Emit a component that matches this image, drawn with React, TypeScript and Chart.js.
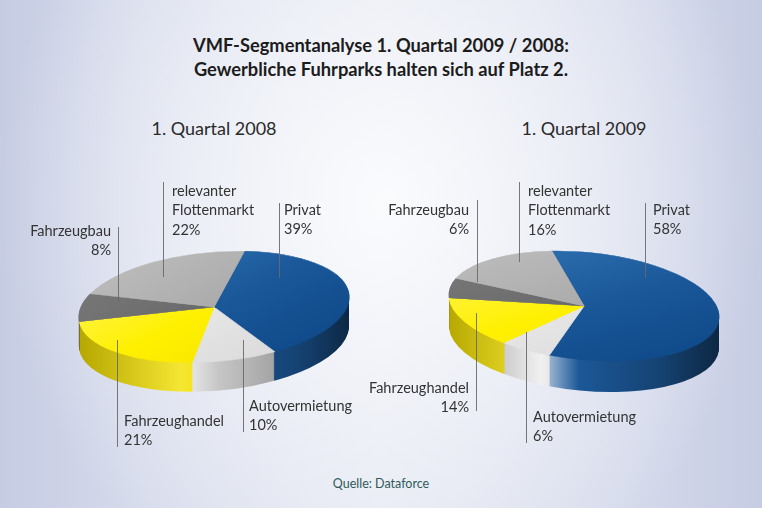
import React, { useEffect, useRef } from "react";
import { Chart, registerables } from "chart.js";

Chart.register(...registerables);

// ---------- data ----------
const CATEGORIES = ["Privat", "Autovermietung", "Fahrzeughandel", "Fahrzeugbau", "relevanter Flottenmarkt"];
const LABEL_LINES = [["Privat"], ["Autovermietung"], ["Fahrzeughandel"], ["Fahrzeugbau"], ["relevanter", "Flottenmarkt"]];
const VALUES_2008 = [39, 10, 21, 8, 22];
const VALUES_2009 = [58, 6, 14, 6, 16];
const PIE_TITLES = ["1. Quartal 2008", "1. Quartal 2009"];
const TITLE_LINES = ["VMF-Segmentanalyse 1. Quartal 2009 / 2008:", "Gewerbliche Fuhrparks halten sich auf Platz 2."];
const SOURCE = "Quelle: Dataforce";

// ---------- styles ----------
const W = 762;
const H = 508;
const FONT = 'Lato, "Noto Sans", sans-serif';
const TOP_STOPS = [
  ["#3678b8", "#1a5899", "#0c4585"],
  ["#f4f4f4", "#e6e6e6", "#d6d6d6"],
  ["#fff56a", "#fff000", "#f2de00"],
  ["#7c7c7c", "#6a6a6a", "#5a5a5a"],
  ["#bfbfbf", "#ababab", "#9d9d9d"],
];
const SIDE_BASE = ["#1c5898", "#c6c6c6", "#f2e000", "#666666", "#9c9c9c"];
const SIDE_HIGHLIGHT = [0.7, 0.75, 0.2, 0.3, 0.4];

const PIES = [
  { cx: 214, cy: 307, r: 136, ry: 55, tilt: -5, depth: 29, rotation: 15 },
  { cx: 584, cy: 306, r: 136, ry: 54, tilt: 5.5, depth: 31, rotation: -16 },
];

type Lbl = { lx: number; y1: number; y2: number; tx: number; ty: number; align: CanvasTextAlign };
const LABEL_LAYOUT: Lbl[][] = [
  [
    { lx: 279, y1: 203, y2: 278, tx: 284, ty: 210, align: "left" },
    { lx: 243, y1: 340, y2: 432, tx: 249, ty: 406, align: "left" },
    { lx: 117, y1: 340, y2: 447, tx: 124, ty: 421, align: "left" },
    { lx: 118, y1: 227, y2: 302, tx: 111, ty: 231, align: "right" },
    { lx: 163, y1: 182, y2: 277, tx: 172, ty: 191, align: "left" },
  ],
  [
    { lx: 645, y1: 203, y2: 278, tx: 653, ty: 210, align: "left" },
    { lx: 526, y1: 332, y2: 443, tx: 533, ty: 417, align: "left" },
    { lx: 476, y1: 313, y2: 411, tx: 469, ty: 388, align: "right" },
    { lx: 477, y1: 200, y2: 282, tx: 469, ty: 210, align: "right" },
    { lx: 519, y1: 182, y2: 262, tx: 528, ty: 191, align: "left" },
  ],
];

function rgb(h: string): number[] {
  const n = parseInt(h.slice(1), 16);
  return [(n >> 16) & 255, (n >> 8) & 255, n & 255];
}
function mix(h: string, t: string, a: number): string {
  const c = rgb(h);
  const d = rgb(t);
  const m = c.map((v, i) => Math.round(v + (d[i] - v) * a));
  return `rgb(${m[0]},${m[1]},${m[2]})`;
}

function applyTilt(ctx: CanvasRenderingContext2D, x: number, y: number, L: any) {
  ctx.translate(x, y);
  ctx.rotate((L.tilt * Math.PI) / 180);
  ctx.scale(1, L.ry / L.r);
  ctx.translate(-x, -y);
}

function topFill(c: any) {
  const i = c.dataIndex ?? 0;
  const chart = c.chart;
  const area = chart.chartArea;
  if (!area) return TOP_STOPS[i][1];
  const cx = (area.left + area.right) / 2;
  const cy = (area.top + area.bottom) / 2;
  const r = Math.min(area.right - area.left, area.bottom - area.top) / 2;
  const g = chart.ctx.createLinearGradient(cx - r, cy - r, cx + r, cy + r);
  g.addColorStop(0, TOP_STOPS[i][0]);
  g.addColorStop(0.5, TOP_STOPS[i][1]);
  g.addColorStop(1, TOP_STOPS[i][2]);
  return g;
}

function pie3d(L: any) {
  return {
    id: "pie3d",
    beforeDatasetsDraw(chart: any) {
      const ctx: CanvasRenderingContext2D = chart.ctx;
      const arcs = chart.getDatasetMeta(0).data;
      if (!arcs.length) return;
      const x0 = arcs[0].x;
      const y0 = arcs[0].y;
      const r0 = arcs[0].outerRadius;
      const grads = SIDE_BASE.map((b, i) => {
        const g = ctx.createLinearGradient(x0 - r0, 0, x0 + r0, 0);
        g.addColorStop(0, mix(b, "#000000", 0.25));
        g.addColorStop(0.36, mix(b, "#ffffff", SIDE_HIGHLIGHT[i]));
        g.addColorStop(0.5, b);
        g.addColorStop(0.8, mix(b, "#000000", 0.25));
        g.addColorStop(1, mix(b, "#000000", 0.55));
        return g;
      });
      for (let d = L.depth; d >= 1; d--) {
        for (let i = 0; i < arcs.length; i++) {
          const a = arcs[i];
          ctx.save();
          ctx.translate(0, d);
          applyTilt(ctx, a.x, a.y, L);
          ctx.beginPath();
          ctx.moveTo(a.x, a.y);
          ctx.arc(a.x, a.y, a.outerRadius, a.startAngle, a.endAngle);
          ctx.closePath();
          ctx.fillStyle = grads[i];
          ctx.fill();
          ctx.restore();
        }
      }
      ctx.save();
      applyTilt(ctx, x0, y0, L);
    },
    afterDatasetsDraw(chart: any) {
      chart.ctx.restore();
    },
  };
}

function labelsPlugin(p: number, values: number[]) {
  return {
    id: "pieLabels",
    afterDraw(chart: any) {
      const ctx: CanvasRenderingContext2D = chart.ctx;
      ctx.save();
      LABEL_LAYOUT[p].forEach((L, i) => {
        ctx.strokeStyle = "rgba(105,105,105,0.9)";
        ctx.lineWidth = 1;
        ctx.beginPath();
        ctx.moveTo(L.lx + 0.5, L.y1);
        ctx.lineTo(L.lx + 0.5, L.y2);
        ctx.stroke();
        ctx.font = `14.5px ${FONT}`;
        ctx.fillStyle = "#333333";
        ctx.textAlign = L.align;
        ctx.textBaseline = "middle";
        const lines = [...LABEL_LINES[i], `${values[i]}%`];
        lines.forEach((t, j) => ctx.fillText(t, L.tx, L.ty + j * 19.5));
      });
      ctx.restore();
    },
  };
}

function makeChart(canvas: HTMLCanvasElement, values: number[], p: number) {
  const L = PIES[p];
  return new Chart(canvas, {
    type: "pie",
    data: {
      labels: CATEGORIES,
      datasets: [
        {
          data: values,
          backgroundColor: topFill as any,
          borderColor: topFill as any,
          borderWidth: 1,
        },
      ],
    },
    options: {
      responsive: false,
      animation: false,
      events: [],
      rotation: L.rotation,
      layout: {
        padding: { left: L.cx - L.r, right: W - L.cx - L.r, top: L.cy - L.r, bottom: H - L.cy - L.r },
      },
      plugins: { legend: { display: false }, tooltip: { enabled: false } },
    } as any,
    plugins: [pie3d(L), labelsPlugin(p, values)],
  });
}

export default function App() {
  const ref1 = useRef<HTMLCanvasElement>(null);
  const ref2 = useRef<HTMLCanvasElement>(null);
  useEffect(() => {
    const c1 = makeChart(ref1.current!, VALUES_2008, 0);
    const c2 = makeChart(ref2.current!, VALUES_2009, 1);
    return () => {
      c1.destroy();
      c2.destroy();
    };
  }, []);
  const cv: React.CSSProperties = { position: "absolute", left: 0, top: 0, width: W, height: H };
  return (
    <div
      style={{
        position: "absolute",
        left: 0,
        top: 0,
        width: W,
        height: H,
        overflow: "hidden",
        background:
          "radial-gradient(ellipse 50% 85% at 50% 40%, rgba(250,251,253,1) 0%, rgba(242,244,249,0.8) 45%, rgba(242,244,249,0) 100%), linear-gradient(90deg, #c6cce3 0%, #d5daeb 18%, #e6e9f3 50%, #d5daeb 82%, #c6cce3 100%)",
      }}
    >
      <div
        style={{
          position: "absolute",
          left: 0,
          top: 33,
          width: W,
          textAlign: "center",
          font: `bold 18.3px/24px ${FONT}`,
          color: "#1c1c1c",
        }}
      >
        {TITLE_LINES.map((t) => (
          <div key={t}>{t}</div>
        ))}
      </div>
      {PIE_TITLES.map((t, i) => (
        <div
          key={t}
          style={{
            position: "absolute",
            left: PIES[i].cx - 100,
            width: 200,
            top: 116,
            textAlign: "center",
            font: `18px/24px ${FONT}`,
            color: "#2a2a2a",
          }}
        >
          {t}
        </div>
      ))}
      <div
        style={{
          position: "absolute",
          left: 0,
          width: W,
          top: 475,
          textAlign: "center",
          font: `12.5px/18px ${FONT}`,
          color: "#2f5a5a",
        }}
      >
        {SOURCE}
      </div>
      <canvas ref={ref1} width={W} height={H} style={cv} />
      <canvas ref={ref2} width={W} height={H} style={cv} />
    </div>
  );
}
